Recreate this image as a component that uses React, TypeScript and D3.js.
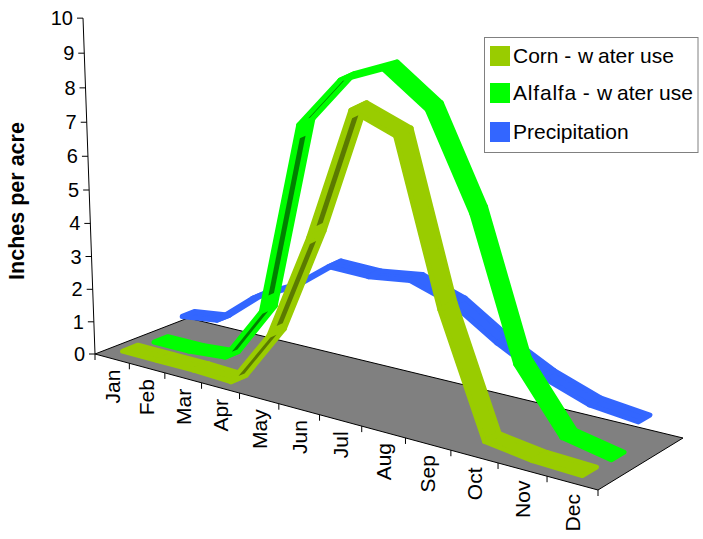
import React from "react";
import * as d3 from "d3";

const months = ["Jan","Feb","Mar","Apr","May","Jun","Jul","Aug","Sep","Oct","Nov","Dec"];
const yTicks = [0,1,2,3,4,5,6,7,8,9,10];
const corn = [0.1,0.1,0.1,0.05,1.8,5.1,9.2,8.8,4.0,0.3,0.1,0.05];
const alfalfa = [0,0,0.1,1.8,7.7,9.3,9.95,9.1,6.4,2.2,0.3,0];
const precip = [0.45,0.6,1.55,2.15,3.1,3.1,3.3,2.9,2.05,1.35,0.85,0.7];
const legendNames = ["Corn","Alfalfa","Precipitation"];

const W = 703, H = 539;
const floor = { L:[95,354], F:[598,490], R:[683,438], B:[188,318] };

function homography(p0:number[],p1:number[],p2:number[],p3:number[]) {
  const dx1=p1[0]-p2[0],dx2=p3[0]-p2[0],sx=p0[0]-p1[0]+p2[0]-p3[0];
  const dy1=p1[1]-p2[1],dy2=p3[1]-p2[1],sy=p0[1]-p1[1]+p2[1]-p3[1];
  const det=dx1*dy2-dx2*dy1;
  const g=(sx*dy2-dx2*sy)/det,h=(dx1*sy-sx*dy1)/det;
  const a=p1[0]-p0[0]+g*p1[0],b=p3[0]-p0[0]+h*p3[0],c=p0[0];
  const d=p1[1]-p0[1]+g*p1[1],e=p3[1]-p0[1]+h*p3[1],f=p0[1];
  return (u:number,w:number)=>{const q=g*u+h*w+1;return [(a*u+b*w+c)/q,(d*u+e*w+f)/q];};
}
const ground = homography(floor.L,floor.F,floor.R,floor.B);
const uScale = d3.scaleLinear().domain([0,12]).range([0,1]);
const V = [350,7500];
const lift = (h:number)=>0.004485*h/(1-0.00457*h);
function project(i:number,w:number,h:number){
  const g=ground(uScale(i+0.5),w);
  const s=1+lift(h);
  return [V[0]+(g[0]-V[0])*s,V[1]+(g[1]-V[1])*s];
}
const axisPt=(h:number)=>{const g=ground(0,0),s=1+lift(h);return [V[0]+(g[0]-V[0])*s,V[1]+(g[1]-V[1])*s];};
const line=d3.line();

const series=[
  {key:"precip",values:precip,w0:0.75,w1:0.89,color:"#3366FF",dark:"#3366FF",strips:[] as number[],thin:-1},
  {key:"alfalfa",values:alfalfa,w0:0.44,w1:0.59,color:"#00FF00",dark:"#008000",strips:[2,3,4],thin:4},
  {key:"corn",values:corn,w0:0.11,w1:0.27,color:"#99CC00",dark:"#5B7A00",strips:[3,4,5],thin:-1},
];

function Ribbon({s}:{s:typeof series[number]}){
  const segs=d3.pairs(s.values.map((v,i)=>({v,i})));
  return <g>
    {segs.map(([a,b],k)=>{
      const pts=[project(a.i,s.w0,a.v),project(a.i,s.w1,a.v),project(b.i,s.w1,b.v),project(b.i,s.w0,b.v)] as [number,number][];
      return <path key={k} d={line(pts)+"Z"} fill={s.color} stroke={s.color} strokeWidth={5} strokeLinejoin="round"/>;
    })}
    {s.strips.map(k=>{
      const wm=(s.w0+s.w1)/2, dw=(s.w1-s.w0)*(k===s.thin?0.06:0.2);
      const a=s.values[k],b=s.values[k+1];
      const at=(t:number)=>a+(b-a)*t;
      const pts=[project(k+0.08,wm-dw,at(0.08)),project(k+0.08,wm+dw,at(0.08)),project(k+0.92,wm+dw,at(0.92)),project(k+0.92,wm-dw,at(0.92))] as [number,number][];
      return <path key={"d"+k} d={line(pts)+"Z"} fill={s.dark}/>;
    })}
  </g>;
}

export default function App(){
  const fontFamily="'Liberation Sans', Arial, sans-serif";
  const floorPts=[floor.L,floor.F,floor.R,floor.B] as [number,number][];
  const tickU=d3.range(13);
  return <svg width={W} height={H} style={{position:"absolute",left:0,top:0,background:"#fff"}} fontFamily={fontFamily}>
    <path d={line(floorPts)+"Z"} fill="#808080" stroke="none"/>
    <path d={line([floor.L,floor.F,floor.R] as [number,number][])!} fill="none" stroke="#000"/>
    <path d={line([floor.L,floor.B] as [number,number][])!} fill="none" stroke="#000"/>
    <path d={line([floor.B,floor.R] as [number,number][])!} fill="none" stroke="#000"/>
    <path d={line([axisPt(0),axisPt(10)] as [number,number][])!} fill="none" stroke="#000"/>
    {yTicks.map(t=>{const p=axisPt(t);return <g key={t}>
      <line x1={p[0]-6} x2={p[0]} y1={p[1]} y2={p[1]} stroke="#000"/>
      <text x={p[0]-10} y={p[1]+7} textAnchor="end" fontSize={20}>{t}</text>
    </g>;})}
    {tickU.map(t=>{const p=ground(uScale(t),0);return <line key={t} x1={p[0]} x2={p[0]} y1={p[1]} y2={p[1]+6} stroke="#000"/>;})}
    {months.map((m,i)=>{const p=ground(uScale(i+0.5),0);
      return <text key={m} transform={`translate(${p[0]+7.5},${p[1]+11}) rotate(-90)`} textAnchor="end" fontSize={21}>{m}</text>;})}
    <text transform="translate(24,201) rotate(-90)" textAnchor="middle" fontSize={21.5} fontWeight="bold">Inches per acre</text>
    {series.map(s=><Ribbon key={s.key} s={s}/>)}
    <rect x={484.5} y={37.5} width={213.5} height={115} fill="#fff" stroke="#808080"/>
    {[["#99CC00",46],["#00FF00",83],["#3366FF",122]].map(([c,y])=><rect key={c as string} x={490} y={y as number} width={20} height={20} fill={c as string}/>)}
    <text x={513} y={63} fontSize={21}>{legendNames[0]} - <tspan x={578}>w</tspan><tspan x={598}>ater use</tspan></text>
    <text x={513} y={100} fontSize={21}><tspan letterSpacing={0.8}>{legendNames[1]}</tspan> - <tspan x={597}>w</tspan><tspan x={617}>ater use</tspan></text>
    <text x={513} y={139} fontSize={21}>{legendNames[2]}</text>
  </svg>;
}
